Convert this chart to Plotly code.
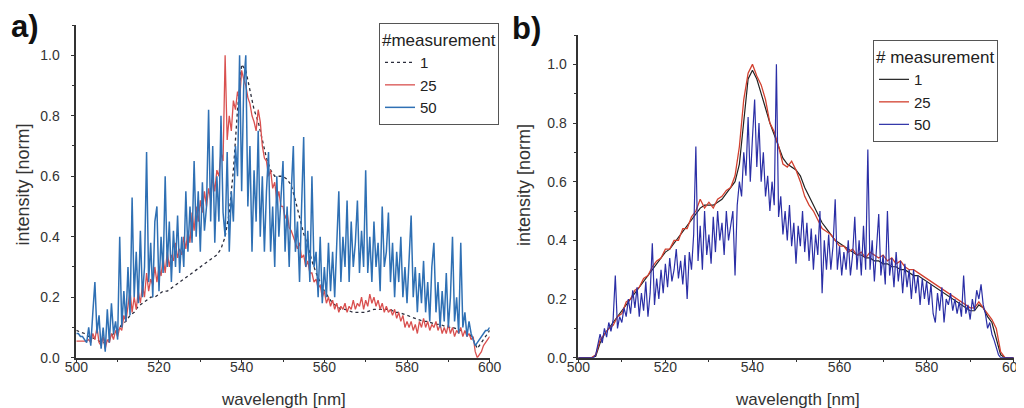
import numpy as np
import plotly.graph_objects as go

# ---------------- data ----------------
# panel a) -- wavelength grids
wl_a_1nm = list(range(500, 601))                 # 1 nm step
wl_a_half = [500 + 0.5 * i for i in range(201)]  # 0.5 nm step

# a) measurement 1 (1 nm step, 500..600)
a_m1 = [0.09, 0.085, 0.08, 0.07, 0.065, 0.06, 0.05, 0.05, 0.06, 0.08,
        0.09, 0.11, 0.12, 0.14, 0.15, 0.17, 0.18, 0.19, 0.20, 0.20,
        0.21, 0.22, 0.22, 0.23, 0.24, 0.25, 0.26, 0.27, 0.28, 0.29,
        0.30, 0.31, 0.32, 0.33, 0.34, 0.36, 0.40, 0.48, 0.62, 0.82,
        0.97, 0.95, 0.88, 0.82, 0.78, 0.72, 0.66, 0.62, 0.60, 0.60,
        0.60, 0.59, 0.57, 0.52, 0.46, 0.41, 0.37, 0.32, 0.28, 0.25,
        0.22, 0.20, 0.18, 0.17, 0.16, 0.16, 0.155, 0.15, 0.15, 0.15,
        0.15, 0.155, 0.16, 0.16, 0.16, 0.16, 0.16, 0.15, 0.15, 0.145,
        0.14, 0.135, 0.13, 0.125, 0.12, 0.12, 0.115, 0.11, 0.11, 0.105,
        0.10, 0.10, 0.095, 0.09, 0.085, 0.08, 0.06, 0.03, 0.05, 0.07,
        0.09]

# a) measurement 25 (0.5 nm step, 500..600)
a_m25 = [
    0.055, 0.055, 0.055, 0.055, 0.055, 0.055, 0.06, 0.05, 0.08, 0.06,   # 500
    0.10, 0.05, 0.04, 0.07, 0.03, 0.06, 0.05, 0.08, 0.06, 0.09,         # 505
    0.07, 0.10, 0.09, 0.14, 0.12, 0.18, 0.22, 0.15, 0.20, 0.16,         # 510
    0.22, 0.18, 0.24, 0.20, 0.28, 0.22, 0.26, 0.24, 0.30, 0.25,         # 515
    0.30, 0.27, 0.33, 0.28, 0.35, 0.30, 0.34, 0.32, 0.38, 0.33,         # 520
    0.36, 0.34, 0.40, 0.36, 0.42, 0.38, 0.48, 0.42, 0.50, 0.45,         # 525
    0.52, 0.48, 0.55, 0.50, 0.56, 0.52, 0.60, 0.55, 0.62, 0.60,         # 530
    0.68, 0.65, 1.00, 0.72, 0.80, 0.75, 0.85, 0.82, 0.88, 0.85,         # 535
    0.95, 0.92, 0.90, 0.86, 0.84, 0.80, 0.78, 0.75, 0.82, 0.78,         # 540
    0.70, 0.66, 0.65, 0.60, 0.62, 0.56, 0.58, 0.52, 0.55, 0.50,         # 545
    0.50, 0.46, 0.48, 0.43, 0.42, 0.40, 0.38, 0.36, 0.38, 0.33,         # 550
    0.34, 0.30, 0.32, 0.28, 0.28, 0.25, 0.26, 0.23, 0.24, 0.20,         # 555
    0.22, 0.18, 0.20, 0.17, 0.19, 0.16, 0.18, 0.15, 0.17, 0.16,         # 560
    0.18, 0.15, 0.17, 0.16, 0.19, 0.16, 0.18, 0.17, 0.20, 0.16,         # 565
    0.19, 0.17, 0.21, 0.18, 0.20, 0.17, 0.19, 0.16, 0.18, 0.15,         # 570
    0.17, 0.15, 0.16, 0.14, 0.16, 0.13, 0.15, 0.12, 0.14, 0.10,         # 575
    0.12, 0.10, 0.12, 0.09, 0.11, 0.08, 0.12, 0.10, 0.13, 0.10,         # 580
    0.12, 0.09, 0.11, 0.10, 0.12, 0.09, 0.11, 0.08, 0.10, 0.08,         # 585
    0.11, 0.08, 0.10, 0.07, 0.09, 0.08, 0.10, 0.07, 0.09, 0.07,         # 590
    0.08, 0.06, 0.07, 0.02, 0.00, 0.01, 0.02, 0.04, 0.05, 0.06,         # 595
    0.07]                                                               # 600

# a) measurement 50 (0.5 nm step, 500..600)
a_m50 = [
    0.08, 0.08, 0.07, 0.07, 0.06, 0.05, 0.10, 0.04, 0.15, 0.25,         # 500
    0.08, 0.14, 0.03, 0.10, 0.02, 0.16, 0.05, 0.18, 0.08, 0.12,         # 505
    0.06, 0.40, 0.10, 0.22, 0.12, 0.30, 0.14, 0.53, 0.20, 0.35,         # 510
    0.18, 0.42, 0.20, 0.30, 0.68, 0.25, 0.38, 0.20, 0.45, 0.50,         # 515
    0.22, 0.40, 0.28, 0.60, 0.30, 0.45, 0.25, 0.42, 0.30, 0.47,         # 520
    0.28, 0.40, 0.30, 0.55, 0.35, 0.50, 0.38, 0.65, 0.40, 0.55,         # 525
    0.35, 0.58, 0.42, 0.50, 0.82, 0.45, 0.70, 0.38, 0.60, 0.45,         # 530
    0.80, 0.48, 0.40, 0.68, 0.35, 0.55, 0.45, 0.70, 0.60, 1.00,         # 535
    0.55, 0.90, 1.00, 0.50, 0.70, 0.35, 0.62, 0.45, 0.75, 0.40,         # 540
    0.60, 0.35, 0.55, 0.68, 0.35, 0.50, 0.30, 0.60, 0.40, 0.55,         # 545
    0.65, 0.35, 0.50, 0.30, 0.55, 0.70, 0.35, 0.45, 0.25, 0.50,         # 550
    0.73, 0.30, 0.42, 0.25, 0.60, 0.30, 0.35, 0.20, 0.40, 0.18,         # 555
    0.30, 0.20, 0.38, 0.22, 0.35, 0.20, 0.40, 0.55, 0.25, 0.40,         # 560
    0.30, 0.52, 0.25, 0.45, 0.30, 0.38, 0.52, 0.28, 0.42, 0.30,         # 565
    0.62, 0.28, 0.40, 0.25, 0.45, 0.30, 0.38, 0.22, 0.50, 0.30,         # 570
    0.35, 0.48, 0.25, 0.38, 0.20, 0.35, 0.25, 0.40, 0.20, 0.30,         # 575
    0.18, 0.35, 0.47, 0.20, 0.30, 0.15, 0.28, 0.18, 0.32, 0.15,         # 580
    0.25, 0.12, 0.30, 0.38, 0.15, 0.25, 0.10, 0.22, 0.12, 0.28,         # 585
    0.10, 0.20, 0.40, 0.12, 0.20, 0.08, 0.38, 0.10, 0.15, 0.07,         # 590
    0.12, 0.08, 0.06, 0.04, 0.05, 0.06, 0.07, 0.08, 0.09, 0.09,         # 595
    0.10]                                                               # 600

# panel b) -- wavelength grids
wl_b_1nm = list(range(500, 601))
wl_b_half = [500 + 0.5 * i for i in range(201)]

# b) measurement 1 (1 nm step)
b_m1 = [0.0, 0.0, 0.0, 0.0, 0.005, 0.05, 0.08, 0.10, 0.12, 0.14,
        0.16, 0.18, 0.20, 0.22, 0.24, 0.26, 0.28, 0.30, 0.32, 0.34,
        0.36, 0.37, 0.39, 0.41, 0.43, 0.45, 0.47, 0.49, 0.51, 0.52,
        0.52, 0.52, 0.53, 0.54, 0.56, 0.58, 0.60, 0.66, 0.80, 0.95,
        0.98, 0.95, 0.90, 0.85, 0.80, 0.76, 0.72, 0.68, 0.66, 0.65,
        0.64, 0.62, 0.58, 0.55, 0.52, 0.49, 0.46, 0.44, 0.42, 0.40,
        0.39, 0.38, 0.37, 0.36, 0.35, 0.35, 0.34, 0.34, 0.33, 0.33,
        0.32, 0.32, 0.31, 0.31, 0.30, 0.30, 0.29, 0.28, 0.28, 0.27,
        0.26, 0.25, 0.24, 0.23, 0.22, 0.21, 0.20, 0.19, 0.18, 0.17,
        0.16, 0.16, 0.18, 0.17, 0.14, 0.12, 0.06, 0.01, 0.0, 0.0,
        0.0]

# b) measurement 25 (1 nm step)
b_m25 = [0.0, 0.0, 0.0, 0.0, 0.01, 0.06, 0.08, 0.10, 0.11, 0.14,
         0.15, 0.19, 0.20, 0.23, 0.24, 0.27, 0.28, 0.31, 0.33, 0.34,
         0.37, 0.37, 0.40, 0.40, 0.44, 0.44, 0.48, 0.50, 0.54, 0.51,
         0.53, 0.51, 0.54, 0.55, 0.57, 0.58, 0.62, 0.72, 0.88, 0.97,
         1.00, 0.96, 0.93, 0.88, 0.80, 0.77, 0.72, 0.66, 0.65, 0.67,
         0.64, 0.60, 0.55, 0.52, 0.50, 0.47, 0.44, 0.43, 0.42, 0.40,
         0.38, 0.38, 0.36, 0.37, 0.35, 0.36, 0.34, 0.36, 0.35, 0.34,
         0.35, 0.33, 0.34, 0.32, 0.33, 0.31, 0.30, 0.30, 0.29, 0.28,
         0.27, 0.26, 0.25, 0.24, 0.23, 0.22, 0.21, 0.20, 0.19, 0.18,
         0.17, 0.17, 0.19, 0.17, 0.15, 0.13, 0.10, 0.02, 0.0, 0.0,
         0.0]

# b) measurement 50 (0.5 nm step)
b_m50 = [
    0.0, 0.0, 0.0, 0.0, 0.0, 0.0, 0.0, 0.0, 0.01, 0.04,                 # 500
    0.08, 0.05, 0.10, 0.07, 0.12, 0.09, 0.13, 0.28, 0.10, 0.14,         # 505
    0.12, 0.17, 0.14, 0.20, 0.15, 0.23, 0.17, 0.24, 0.14, 0.22,         # 510
    0.16, 0.26, 0.14, 0.22, 0.39, 0.18, 0.27, 0.20, 0.30, 0.22,         # 515
    0.32, 0.24, 0.34, 0.26, 0.30, 0.37, 0.27, 0.33, 0.25, 0.35,         # 520
    0.20, 0.36, 0.30, 0.42, 0.72, 0.33, 0.45, 0.30, 0.50, 0.35,         # 525
    0.42, 0.32, 0.48, 0.36, 0.50, 0.40, 0.46, 0.35, 0.50, 0.40,         # 530
    0.45, 0.50, 0.28, 0.52, 0.60, 0.55, 0.70, 0.62, 0.82, 0.60,         # 535
    0.75, 0.88, 0.65, 0.80, 0.60, 0.70, 0.55, 0.62, 0.50, 0.60,         # 540
    0.52, 1.00, 0.48, 0.55, 0.42, 0.50, 0.40, 0.52, 0.38, 0.46,         # 545
    0.32, 0.45, 0.38, 0.50, 0.36, 0.46, 0.33, 0.44, 0.30, 0.42,         # 550
    0.35, 0.50, 0.22, 0.40, 0.30, 0.42, 0.30, 0.38, 0.54, 0.30,         # 555
    0.38, 0.28, 0.36, 0.30, 0.40, 0.28, 0.35, 0.48, 0.30, 0.40,         # 560
    0.28, 0.45, 0.30, 0.71, 0.30, 0.40, 0.26, 0.36, 0.49, 0.28,         # 565
    0.35, 0.25, 0.50, 0.28, 0.34, 0.24, 0.36, 0.26, 0.33, 0.22,         # 570
    0.32, 0.24, 0.30, 0.20, 0.30, 0.22, 0.28, 0.18, 0.27, 0.20,         # 575
    0.26, 0.18, 0.25, 0.15, 0.12, 0.22, 0.16, 0.24, 0.12, 0.20,         # 580
    0.18, 0.22, 0.16, 0.20, 0.15, 0.19, 0.14, 0.28, 0.15, 0.18,         # 585
    0.13, 0.20, 0.16, 0.23, 0.20, 0.25, 0.18, 0.15, 0.10, 0.12,         # 590
    0.08, 0.06, 0.03, 0.01, 0.0, 0.0, 0.0, 0.0, 0.0, 0.0,               # 595
    0.0]                                                                # 600

series_names = ["1", "25", "50"]
x_ticks = [500, 520, 540, 560, 580, 600]
y_ticks = [0.0, 0.2, 0.4, 0.6, 0.8, 1.0]

# ---------------- figure ----------------
FONT = "Liberation Sans, Arial, sans-serif"
fig = go.Figure()

# panel a
fig.add_trace(go.Scatter(x=wl_a_1nm, y=a_m1, name=series_names[0], mode="lines",
                         line=dict(color="#2b2d3c", width=1.3, dash="dot"),
                         xaxis="x", yaxis="y", legend="legend"))
fig.add_trace(go.Scatter(x=wl_a_half, y=a_m25, name=series_names[1], mode="lines",
                         line=dict(color="#d9504f", width=1.3),
                         xaxis="x", yaxis="y", legend="legend"))
fig.add_trace(go.Scatter(x=wl_a_half, y=a_m50, name=series_names[2], mode="lines",
                         line=dict(color="#2f70b4", width=1.5),
                         xaxis="x", yaxis="y", legend="legend"))

# panel b
fig.add_trace(go.Scatter(x=wl_b_1nm, y=b_m1, name=series_names[0], mode="lines",
                         line=dict(color="#222222", width=1.2),
                         xaxis="x2", yaxis="y2", legend="legend2"))
fig.add_trace(go.Scatter(x=wl_b_1nm, y=b_m25, name=series_names[1], mode="lines",
                         line=dict(color="#d2402f", width=1.3),
                         xaxis="x2", yaxis="y2", legend="legend2"))
fig.add_trace(go.Scatter(x=wl_b_half, y=b_m50, name=series_names[2], mode="lines",
                         line=dict(color="#2b2fa6", width=1.2),
                         xaxis="x2", yaxis="y2", legend="legend2"))

# the page body adds an 8 px offset; work in screen pixels and convert
OFF = 8
W, H = 1024 - OFF, 408 - OFF
def px_x(s):
    return (s - OFF) / W
def px_y(s):
    return (H - (s - OFF)) / H

axis_common = dict(
    showline=True, linecolor="#333333", linewidth=1.5, mirror=False,
    ticks="outside", ticklen=4, tickwidth=1.2, tickcolor="#333333",
    showgrid=False, zeroline=False, automargin=False,
    tickfont=dict(family=FONT, size=14, color="#333333"),
)
xminor = dict(dtick=10, ticks="outside", ticklen=3, tickcolor="#333333")
yminor = dict(dtick=0.1, ticks="outside", ticklen=3, tickcolor="#333333")

fig.update_layout(
    width=W, height=H,
    margin=dict(l=0, r=0, t=0, b=0),
    paper_bgcolor="white", plot_bgcolor="white",
    font=dict(family=FONT, color="#333333"),
    xaxis=dict(domain=[px_x(76.3), px_x(489.7)], range=[500, 600], anchor="y",
               tickvals=x_ticks, minor=xminor, ticklabelstandoff=-8,
               ticklabeloverflow="allow", **axis_common),
    yaxis=dict(domain=[px_y(357.7), px_y(25)], range=[0, 1.1], anchor="x",
               tickvals=y_ticks, tickformat=".1f", minor=yminor,
               ticklabelstandoff=8, **axis_common),
    xaxis2=dict(domain=[px_x(578.3), px_x(1013.7)], range=[500, 600], anchor="y2",
                tickvals=x_ticks, minor=xminor, ticklabelstandoff=-8,
                ticklabeloverflow="allow", **axis_common),
    yaxis2=dict(domain=[px_y(357.7), px_y(35)], range=[0, 1.1], anchor="x2",
                tickvals=y_ticks, tickformat=".1f", minor=yminor,
                ticklabelstandoff=3, **axis_common),
    legend=dict(x=px_x(379), y=px_y(23), xanchor="left", yanchor="top",
                bgcolor="white", bordercolor="#555555", borderwidth=1,
                font=dict(family=FONT, size=15, color="#222222"),
                title=dict(text="#measurement", font=dict(family=FONT, size=17, color="#222222")),
                tracegroupgap=0),
    legend2=dict(x=px_x(873), y=px_y(40), xanchor="left", yanchor="top",
                 bgcolor="white", bordercolor="#555555", borderwidth=1,
                 font=dict(family=FONT, size=15, color="#222222"),
                 title=dict(text="# measurement", font=dict(family=FONT, size=17, color="#222222")),
                 tracegroupgap=0),
    showlegend=True,
    annotations=[
        dict(text="<b>a)</b>", x=px_x(9), y=px_y(27), xref="paper", yref="paper",
             xanchor="left", yanchor="middle", showarrow=False,
             font=dict(family=FONT, size=31, color="#111111")),
        dict(text="<b>b)</b>", x=px_x(510), y=px_y(28), xref="paper", yref="paper",
             xanchor="left", yanchor="middle", showarrow=False,
             font=dict(family=FONT, size=31, color="#111111")),
        dict(text="wavelength [nm]", x=px_x(283), y=px_y(399), xref="paper", yref="paper",
             xanchor="center", yanchor="middle", showarrow=False,
             font=dict(family=FONT, size=17, color="#333333")),
        dict(text="wavelength [nm]", x=px_x(797), y=px_y(399), xref="paper", yref="paper",
             xanchor="center", yanchor="middle", showarrow=False,
             font=dict(family=FONT, size=17, color="#333333")),
        dict(text="intensity [norm]", x=px_x(22.5), y=px_y(185), xref="paper", yref="paper",
             xanchor="center", yanchor="middle", showarrow=False, textangle=-90,
             font=dict(family=FONT, size=18, color="#333333")),
        dict(text="intensity [norm]", x=px_x(524), y=px_y(185), xref="paper", yref="paper",
             xanchor="center", yanchor="middle", showarrow=False, textangle=-90,
             font=dict(family=FONT, size=18, color="#333333")),
    ],
)

fig.write_html("out.html")
